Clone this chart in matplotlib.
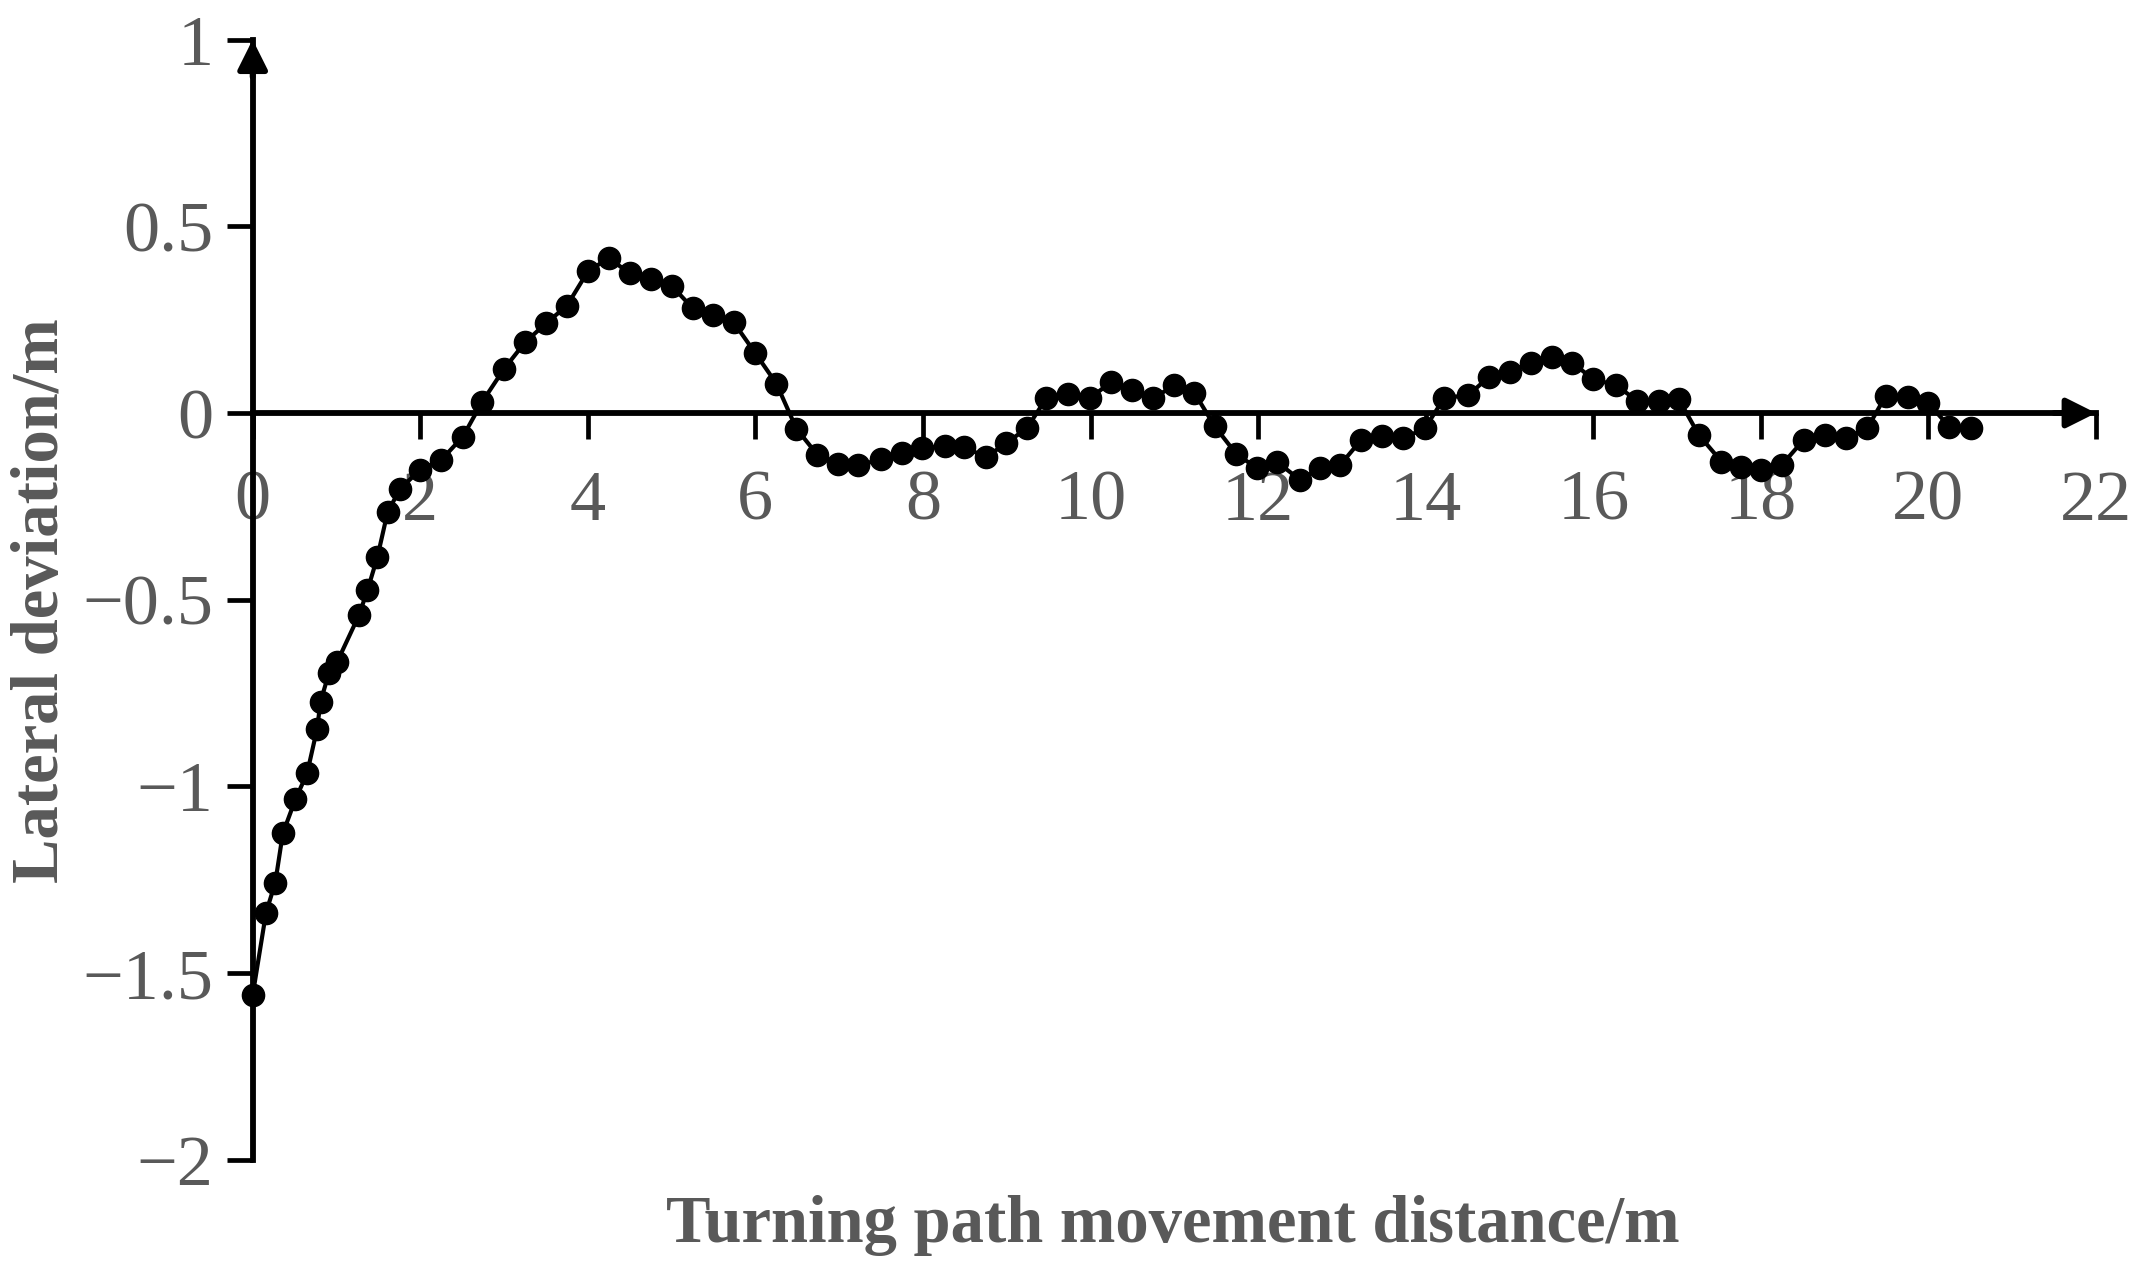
import matplotlib
matplotlib.use('Agg')
import matplotlib.pyplot as plt

# serif font like Times
plt.rcParams['font.family'] = ['Liberation Serif', 'DejaVu Serif']
plt.rcParams['axes.unicode_minus'] = True

# data
distance = [0.00, 0.16, 0.27, 0.36, 0.51, 0.65, 0.77, 0.81, 0.91, 1.01,
            1.27, 1.37, 1.49, 1.61, 1.76, 2.00, 2.25, 2.51, 2.74, 3.00,
            3.25, 3.50, 3.75, 4.00, 4.25, 4.50, 4.75, 5.00, 5.25, 5.50,
            5.74, 6.00, 6.25, 6.49, 6.74, 6.99, 7.23, 7.50, 7.75, 7.99,
            8.26, 8.49, 8.75, 8.99, 9.24, 9.47, 9.73, 9.99, 10.25, 10.49,
            10.75, 11.00, 11.24, 11.48, 11.74, 11.99, 12.22, 12.50, 12.74, 12.98,
            13.23, 13.48, 13.73, 13.99, 14.22, 14.51, 14.75, 15.00, 15.26, 15.51,
            15.75, 16.00, 16.27, 16.52, 16.78, 17.02, 17.26, 17.53, 17.76, 18.00,
            18.25, 18.51, 18.76, 19.01, 19.27, 19.49, 19.75, 20.00, 20.25, 20.51]
deviation = [-1.56, -1.338, -1.258, -1.126, -1.035, -0.965, -0.845, -0.773, -0.697, -0.666,
             -0.541, -0.475, -0.385, -0.266, -0.203, -0.152, -0.126, -0.063, 0.030, 0.118,
             0.189, 0.240, 0.287, 0.379, 0.415, 0.374, 0.360, 0.341, 0.281, 0.263,
             0.243, 0.160, 0.079, -0.042, -0.112, -0.136, -0.140, -0.124, -0.106, -0.095,
             -0.088, -0.090, -0.119, -0.081, -0.041, 0.039, 0.050, 0.039, 0.084, 0.062,
             0.039, 0.075, 0.054, -0.035, -0.110, -0.148, -0.130, -0.179, -0.148, -0.139,
             -0.072, -0.062, -0.068, -0.041, 0.040, 0.048, 0.096, 0.111, 0.135, 0.151,
             0.135, 0.090, 0.075, 0.033, 0.033, 0.037, -0.059, -0.130, -0.144, -0.153,
             -0.139, -0.072, -0.059, -0.068, -0.041, 0.046, 0.042, 0.026, -0.037, -0.041]

x_ticks = [0, 2, 4, 6, 8, 10, 12, 14, 16, 18, 20, 22]
y_ticks = [-2, -1.5, -1, -0.5, 0, 0.5, 1]
y_tick_labels = ['\u22122', '\u22121.5', '\u22121', '\u22120.5', '0', '0.5', '1']

label_gray = '#595959'

fig = plt.figure(figsize=(21.41, 12.78), dpi=100)
ax = fig.add_axes([0.118, 0.0925, 0.861, 0.8765])

ax.plot(distance, deviation, color='black', linewidth=3.0, marker='o',
        markersize=16, clip_on=False, zorder=3)

ax.set_xlim(0, 22)
ax.set_ylim(-2, 1)

# axes through the origin
ax.spines['top'].set_visible(False)
ax.spines['right'].set_visible(False)
ax.spines['left'].set_position(('data', 0))
ax.spines['bottom'].set_position(('data', 0))
for s in ['left', 'bottom']:
    ax.spines[s].set_linewidth(4.2)

ax.set_xticks(x_ticks)
ax.set_xticklabels([str(t) for t in x_ticks])
ax.set_yticks(y_ticks)
ax.set_yticklabels(y_tick_labels)
ax.tick_params(axis='both', direction='out', length=19, width=3.4,
               labelsize=52, labelcolor=label_gray)
ax.tick_params(axis='x', pad=22)
ax.tick_params(axis='y', pad=9)

# arrow heads at the axis ends
ax.annotate('', xy=(22, 0), xytext=(21.5, 0), annotation_clip=False,
            arrowprops=dict(arrowstyle='-|>,head_length=0.4,head_width=0.2',
                            mutation_scale=45, color='black', lw=4.2,
                            shrinkA=0, shrinkB=0))
ax.annotate('', xy=(0, 1), xytext=(0, 0.9), annotation_clip=False,
            arrowprops=dict(arrowstyle='-|>,head_length=0.4,head_width=0.2',
                            mutation_scale=45, color='black', lw=4.2,
                            shrinkA=0, shrinkB=0))

fig.text(0.548, 0.041, 'Turning path movement distance/m', ha='center', va='center',
         fontsize=48, fontweight='bold', color=label_gray)
fig.text(0.019, 0.530, 'Lateral deviation/m', ha='center', va='center',
         rotation=90, fontsize=48, fontweight='bold', color=label_gray)

fig.savefig('out.png', dpi=100)
